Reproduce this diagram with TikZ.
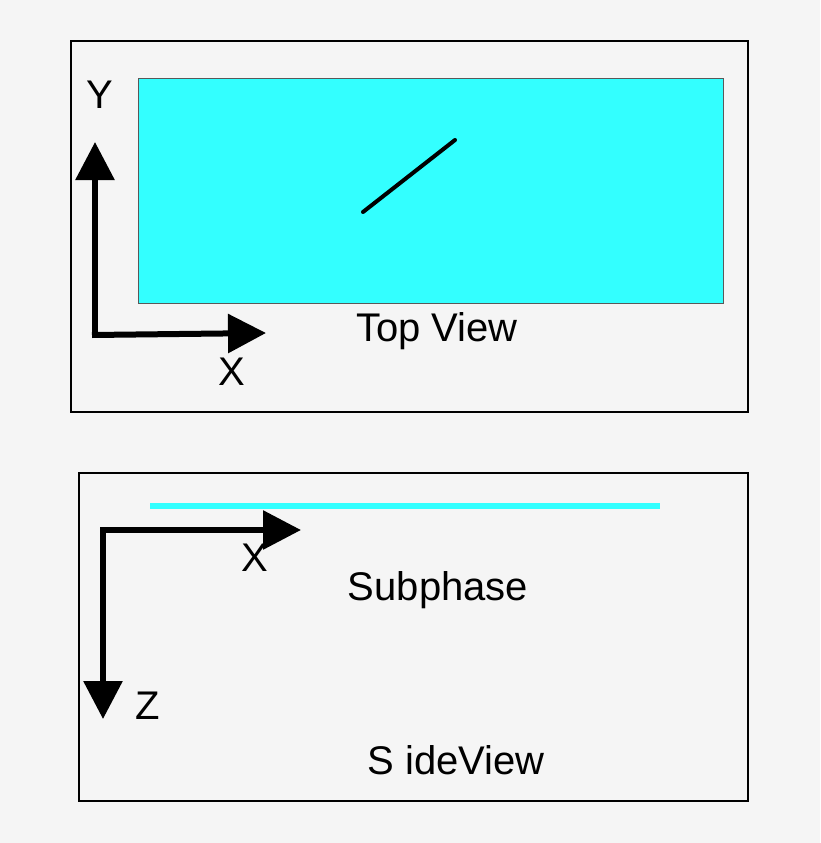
\documentclass[tikz,border=0pt]{standalone}
\usepackage{fontspec}
\setmainfont{Liberation Sans}
\usetikzlibrary{arrows.meta}
\definecolor{bg}{HTML}{F5F5F5}
\definecolor{aqua}{HTML}{33FFFF}
\begin{document}
\begin{tikzpicture}[x=1pt,y=-1pt,
  frame/.style={draw=black,line width=1.5pt},
  axis/.style={line width=6pt,-{Triangle[length=38pt,width=38pt]}},
  lbl/.style={font=\fontsize{40}{44}\selectfont,inner sep=0pt}]
\fill[bg] (0,0) rectangle (820,843);
\useasboundingbox (0,0) rectangle (820,843);
\draw[frame] (71,41) rectangle (748,412);
\draw[fill=aqua,draw=gray!70!black,line width=0.5pt] (138,78) rectangle (723,303);
\coordinate (l1) at (363,212); \coordinate (l2) at (455,140);
\draw[line width=4pt,line cap=round] (l1) -- (l2);
\coordinate (o1) at (95,335);
\coordinate (ytip) at (95,142);
\coordinate (xtip) at (266,333);
\draw[axis] ([yshift=3pt]o1) -- (ytip);
\draw[axis] ([xshift=-3pt]o1) -- (xtip);
\node[lbl] (ylab) at (100,95) {Y};
\node[lbl] (xlab) at (232,372) {X};
\node[lbl] (top) at (437,331) {Top View};
\draw[frame] (79,473) rectangle (748,801);
\coordinate (c1) at (150,506); \coordinate (c2) at (660,506);
\draw[aqua,line width=6pt] (c1) -- (c2);
\coordinate (o2) at (103,530);
\coordinate (x2tip) at (301,530);
\coordinate (ztip) at (103,719);
\draw[axis] ([xshift=-3pt]o2) -- (x2tip);
\draw[axis] ([yshift=-3pt]o2) -- (ztip);
\node[lbl] (x2lab) at (255,558) {X};
\node[lbl] (zlab) at (148,706) {Z};
\node[lbl] (sub) at (438,590) {Subphase};
\node[lbl] (side) at (456,760) {S ideView};
\end{tikzpicture}
\end{document}
